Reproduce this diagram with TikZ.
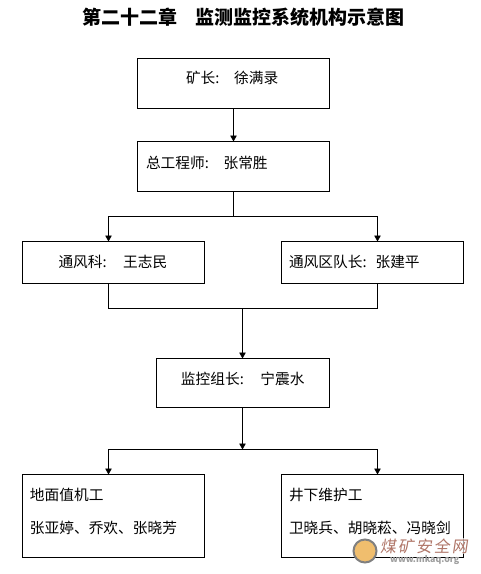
\documentclass[tikz,border=0pt]{standalone}
\usepackage{fontspec}
\setmainfont{Noto Sans CJK SC}
\newfontfamily\markfont[LetterSpace=12,FakeSlant=0.15]{Noto Sans CJK SC}
\usetikzlibrary{arrows.meta, positioning, shapes.geometric}
\definecolor{marktext}{RGB}{176,118,104}
\definecolor{marksun}{RGB}{240,190,110}

\begin{document}
\begin{tikzpicture}[
                node distance=33pt and 50pt,
                unit/.style={rectangle, draw=black, line width=0.9pt, outer sep=0pt, fill=white, inner sep=0pt, text width=182pt, align=left, font=\fontsize{14.7}{33}\selectfont},
                title/.style={font=\fontsize{19}{22}\selectfont\bfseries},
                link/.style={line width=0.9pt},
                arrow/.style={line width=0.9pt, -{Triangle[length=6pt, width=6.5pt]}},
                mark_text/.style={inner sep=1pt, fill=white, fill opacity=0.65, text opacity=1, text=marktext, font=\markfont\fontsize{16}{20}\selectfont},
                mark_url/.style={inner sep=0pt, text=black!38, font=\fontsize{8.8}{10}\selectfont\bfseries}
            ]%
            \useasboundingbox (0,0) rectangle (481pt,-574pt);
            %
            % Title
            \node[title, inner sep=0pt] (heading) at (243.5pt,-17pt) {第二十二章\hspace{19pt}监测监控系统机构示意图};
            %
            % Upper nodes
            \node[unit, text width=192pt, minimum height=50pt, text height=25pt, text depth=25pt] (mine) at (233.5pt,-83.5pt) {\hspace*{48.5pt}矿长:\quad 徐满录};
            \node[unit, text width=192pt, minimum height=50pt, text height=27pt, text depth=23pt, below=33pt of mine] (chief) {\hspace*{8.5pt}总工程师:\quad 张常胜};
            \node[unit, minimum height=42pt, text height=25.7pt, text depth=16.3pt, below=50pt of chief, xshift=-120pt] (vent) {\hspace*{36pt}通风科:\hspace{16.5pt}王志民};
            \node[unit, minimum height=42pt, text height=25.7pt, text depth=16.3pt, right=77pt of vent] (team) {\hspace*{7.5pt}通风区队长:\hspace{9pt}张建平};
            %
            % Lower nodes
            \node[unit, text width=173pt, minimum height=49pt, text height=26pt, text depth=23pt, below=75pt of vent, xshift=129.5pt] (monitor) {\hspace*{24.5pt}监控组长:\hspace{16.5pt}宁震水};
            \node[unit, minimum height=83pt, text height=26pt, text depth=57pt, below=191pt of vent] (ground) {\hspace*{7.5pt}地面值机工\\\hspace*{7.5pt}张亚婷、乔欢、张晓芳};
            \node[unit, minimum height=83pt, text height=26pt, text depth=57pt, below=191pt of team] (shaft) {\hspace*{7.5pt}井下维护工\\\hspace*{7.5pt}卫晓兵、胡晓菘、冯晓剑};
            %
            % Junctions
            \coordinate[below=25pt of chief] (split_vent);
            \coordinate (merge) at ([xshift=-0.5pt, yshift=50pt]monitor.north);
            \coordinate (split_work) at ([xshift=-0.5pt, yshift=-42pt]monitor.south);
            %
            % Connections
            \draw[arrow] (mine) -- (chief);
            \draw[link] (chief) -- (split_vent);
            \draw[arrow] (split_vent) -| ([xshift=-5pt]vent.north);
            \draw[arrow] (split_vent) -| ([xshift=5pt]team.north);
            \draw[link] ([xshift=-5pt]vent.south) |- (merge);
            \draw[link] ([xshift=5pt]team.south) |- (merge);
            \draw[arrow] (merge) -- (merge |- monitor.north);
            \draw[arrow] (merge |- monitor.south) -- (split_work);
            \draw[arrow] (split_work) -| ([xshift=-5pt]ground.north);
            \draw[arrow] (split_work) -| ([xshift=5pt]shaft.north);
            %
            % Site mark
            \node[circle, draw=black!50, line width=2pt, fill=marksun, minimum size=23pt, inner sep=0pt] (logo) at (365pt,-551pt) {};
            \node[mark_text, anchor=west] (site) at (379pt,-546pt) {煤矿安全网};
            \node[mark_url, anchor=west] (url) at (390pt,-560pt) {www.mkaq.org};
        \end{tikzpicture}
\end{document}
